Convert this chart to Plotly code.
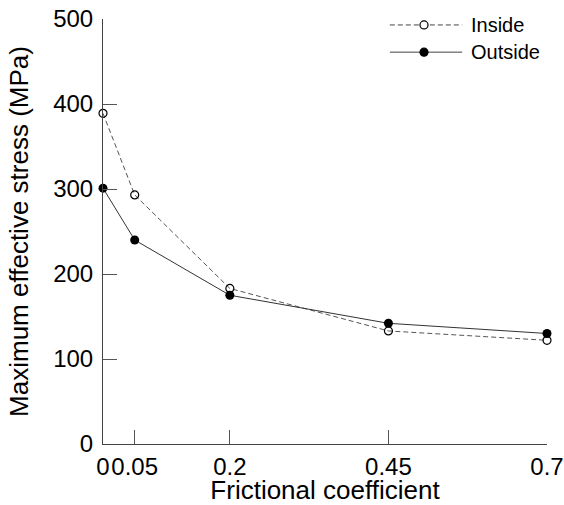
import plotly.graph_objects as go

friction = [0, 0.05, 0.2, 0.45, 0.7]
inside = [389, 293, 183, 133, 122]
outside = [301, 240, 175, 142, 130]
x_ticks = [0, 0.05, 0.2, 0.45, 0.7]
x_tick_text = ["0", "0.05", "0.2", "0.45", "0.7"]
y_ticks = [0, 100, 200, 300, 400, 500]

FONT = "Arial, Liberation Sans, sans-serif"

fig = go.Figure()
fig.add_trace(go.Scatter(
    x=friction, y=inside, name="Inside", mode="lines+markers",
    line=dict(color="#555555", width=1, dash="5px,3px"),
    marker=dict(symbol="circle-open", size=8, color="black", line=dict(width=1.2, color="black")),
    cliponaxis=False, showlegend=False))
fig.add_trace(go.Scatter(
    x=friction, y=outside, name="Outside", mode="lines+markers",
    line=dict(color="#333333", width=1),
    marker=dict(symbol="circle", size=9, color="black"),
    cliponaxis=False, showlegend=False))

# custom legend (paper coordinates)
leg_rows = [("Inside", 0.986, "5px,3px", "white"), ("Outside", 0.922, "solid", "black")]
for label, yy, dash, fill in leg_rows:
    fig.add_shape(type="line", xref="paper", yref="paper", x0=0.646, x1=0.809, y0=yy, y1=yy,
                  line=dict(color="#444444", width=1, dash=dash))
    fig.add_shape(type="circle", xref="paper", yref="paper", xsizemode="pixel", ysizemode="pixel",
                  xanchor=0.723, yanchor=yy, x0=-4, x1=4, y0=-4, y1=4,
                  line=dict(color="black", width=1.2), fillcolor=fill)
    fig.add_annotation(xref="paper", yref="paper", x=0.824, y=yy, text=label, showarrow=False,
                       xanchor="left", yanchor="middle", font=dict(family=FONT, size=20, color="black"))

fig.update_layout(
    width=564, height=505,
    margin=dict(l=103, r=17, t=19, b=61, autoexpand=False),
    paper_bgcolor="white", plot_bgcolor="white",
    font=dict(family=FONT, color="black"),
    xaxis=dict(range=[0, 0.7], tickvals=x_ticks, ticktext=x_tick_text, tickangle=0,
               ticks="inside", ticklen=14, tickcolor="#555555", tickwidth=1,
               showline=True, linecolor="#444444", linewidth=1, automargin=False,
               showgrid=False, zeroline=False, tickfont=dict(size=24), ticklabelstandoff=1,
               ticklabeloverflow="allow",
               title=dict(text="Frictional coefficient", font=dict(size=26), standoff=2)),
    yaxis=dict(range=[0, 500], tickvals=y_ticks, ticks="inside", ticklen=14,
               tickcolor="#555555", tickwidth=1, automargin=False,
               showline=True, linecolor="#444444", linewidth=1,
               showgrid=False, zeroline=False, tickfont=dict(size=24), ticklabelstandoff=4,
               ticklabeloverflow="allow",
               title=dict(text="Maximum effective stress (MPa)", font=dict(size=26), standoff=17)),
)
fig.write_html("out.html", config={"displayModeBar": False},
               post_script="document.body.style.margin='0';document.body.style.overflow='hidden';")
